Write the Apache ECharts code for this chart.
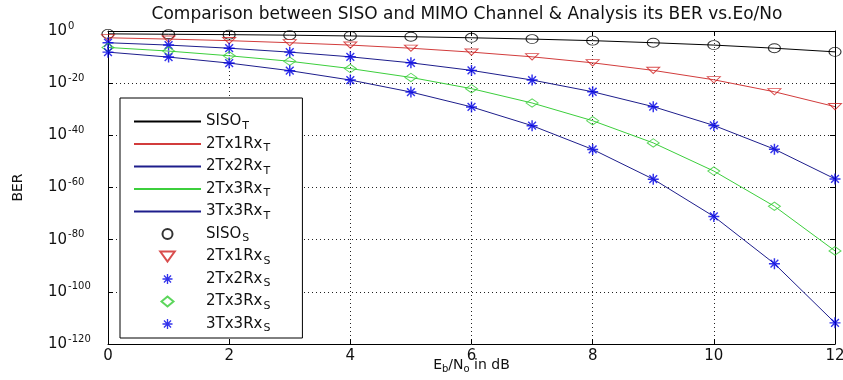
<!DOCTYPE html>
<html>
<head>
<meta charset="utf-8">
<script src="https://cdn.jsdelivr.net/npm/echarts@6.0.0/dist/echarts.min.js"></script>
<style>
  html, body { margin: 0; padding: 0; background: #fff; }
  #main { width: 843px; height: 380px; }
</style>
</head>
<body>
<div id="main"></div>
<script>
// Eb/No in dB
var snrDb = [0, 1, 2, 3, 4, 5, 6, 7, 8, 9, 10, 11, 12];
// BER as log10 values (1e-n -> -n)
var siso   = [-1.1, -1.25, -1.4, -1.6, -1.9, -2.2, -2.6, -3.1, -3.7, -4.5, -5.4, -6.6, -8.0];
var tx2rx1 = [-2.6, -3.1, -3.7, -4.5, -5.4, -6.6, -8.1, -9.9, -12.2, -15.1, -18.7, -23.3, -29.0];
var tx2rx2 = [-4.5, -5.4, -6.6, -8.1, -9.9, -12.2, -15.1, -18.8, -23.3, -29.0, -36.2, -45.3, -56.7];
var tx2rx3 = [-6.3, -7.7, -9.5, -11.6, -14.4, -17.8, -22.1, -27.6, -34.4, -42.9, -53.7, -67.2, -84.3];
var tx3rx3 = [-8.1, -10.0, -12.3, -15.2, -18.8, -23.4, -29.1, -36.3, -45.4, -56.8, -71.1, -89.2, -111.9];
var yTicks = [0, -20, -40, -60, -80, -100, -120];

var FONT = "DejaVu Sans";
// matlab-ish marker shapes
var ASTERISK = "path://M5.2,0L6.8,0L6.8,12L5.2,12Z M0,5.2L12,5.2L12,6.8L0,6.8Z " +
  "M1.2,2.3L2.3,1.2L10.8,9.7L9.7,10.8Z M9.7,1.2L10.8,2.3L2.3,10.8L1.2,9.7Z";
var TRI_DOWN = "path://M0,0L13,0L6.5,9Z";
var DIAMOND = "path://M6,0L12,5L6,10L0,5Z";

function pts(vals) {
  return snrDb.map(function (x, i) { return [x, vals[i]]; });
}

function theory(name, vals, color) {
  return {
    name: name, type: "line", data: pts(vals), symbol: "none",
    lineStyle: { color: color, width: 1 }, itemStyle: { color: color },
    z: 2, silent: true
  };
}

function sim(name, vals, symbol, size, color, filled) {
  return {
    name: name, type: "scatter", data: pts(vals), symbol: symbol,
    symbolSize: size, symbolKeepAspect: true,
    itemStyle: filled
      ? { color: color }
      : { color: "rgba(255,255,255,0)", borderColor: color, borderWidth: 1 },
    z: 3
  };
}

var lineNames = ["SISO_T", "2Tx1Rx_T", "2Tx2Rx_T", "2Tx3Rx_T", "3Tx3Rx_T"];
var simNames = ["SISO_S", "2Tx1Rx_S", "2Tx2Rx_S", "2Tx3Rx_S", "3Tx3Rx_S"];

var myChart = echarts.init(document.getElementById("main"), null, { renderer: "canvas" });

var boxAxis = {
  type: "value", min: 0, max: 12, interval: 2,
  axisLine: { show: true, onZero: false, lineStyle: { color: "#000", width: 1 } },
  axisTick: { show: true, inside: true, length: 5, lineStyle: { color: "#000" } }
};

var option = {
  animation: false,
  backgroundColor: "#fff",
  title: {
    text: "Comparison between SISO and MIMO Channel & Analysis its BER vs.Eo/No",
    left: 467, top: 6, textAlign: "center", padding: 0,
    textStyle: { fontFamily: FONT, fontSize: 17, fontWeight: "normal", color: "#111" }
  },
  grid: { left: 108, right: 8, top: 31, bottom: 36, outerBoundsMode: "none" },
  legend: {
    orient: "vertical", left: 120, top: 98,
    itemWidth: 67, itemHeight: 10, itemGap: 5,
    padding: [16, 32, 4, 13],
    backgroundColor: "#fff", borderColor: "#000", borderWidth: 1, borderRadius: 0,
    data: lineNames.map(function (n) { return { name: n, itemStyle: { opacity: 0 } }; })
      .concat(simNames.map(function (n) { return { name: n }; })),
    formatter: function (name) {
      var p = name.split("_");
      return "{n|" + p[0] + "}{s|" + p[1] + "}";
    },
    textStyle: {
      color: "#111",
      rich: {
        n: { fontFamily: FONT, fontSize: 15, color: "#111" },
        s: { fontFamily: FONT, fontSize: 11, color: "#111", padding: [9, 0, 0, 1] }
      }
    }
  },
  xAxis: [
    Object.assign({}, boxAxis, {
      position: "bottom",
      name: "{n|E}{s|b}{n|/N}{s|o}{n| in dB}",
      nameLocation: "middle", nameGap: 12, nameMoveOverlap: false,
      nameTextStyle: {
        rich: {
          n: { fontFamily: FONT, fontSize: 14, color: "#111" },
          s: { fontFamily: FONT, fontSize: 10, color: "#111", padding: [8, 0, 0, 0] }
        }
      },
      axisLabel: { show: true, margin: 5, fontFamily: FONT, fontSize: 15, color: "#111" },
      splitLine: { show: true, lineStyle: { color: "#222", type: [1, 3], width: 1 } }
    }),
    Object.assign({}, boxAxis, {
      position: "top",
      axisLabel: { show: false },
      splitLine: { show: false }
    })
  ],
  yAxis: [
    {
      type: "value", min: -120, max: 0, interval: 20, position: "left",
      name: "BER", nameLocation: "middle", nameGap: 83, nameRotate: 90, nameMoveOverlap: false,
      nameTextStyle: { fontFamily: FONT, fontSize: 14, color: "#111" },
      axisLine: { show: true, onZero: false, lineStyle: { color: "#000", width: 1 } },
      axisTick: { show: true, inside: true, length: 5, lineStyle: { color: "#000" } },
      axisLabel: {
        show: true, align: "left", margin: 60,
        formatter: function (v) {
          return yTicks.indexOf(v) > -1 ? "{b|10}{e|" + v + "}" : "";
        },
        rich: {
          b: { fontFamily: FONT, fontSize: 15, color: "#111" },
          e: { fontFamily: FONT, fontSize: 10, color: "#111", padding: [0, 0, 10, 1] }
        }
      },
      splitLine: { show: true, lineStyle: { color: "#222", type: [1, 3], width: 1 } }
    },
    {
      type: "value", min: -120, max: 0, interval: 20, position: "right",
      axisLine: { show: true, onZero: false, lineStyle: { color: "#000", width: 1 } },
      axisTick: { show: true, inside: true, length: 5, lineStyle: { color: "#000" } },
      axisLabel: { show: false },
      splitLine: { show: false }
    }
  ],
  series: [
    theory("SISO_T", siso, "#000000"),
    theory("2Tx1Rx_T", tx2rx1, "#d23c3c"),
    theory("2Tx2Rx_T", tx2rx2, "#1e1e8c"),
    theory("2Tx3Rx_T", tx2rx3, "#3ccf3c"),
    theory("3Tx3Rx_T", tx3rx3, "#1e1e8c"),
    sim("SISO_S", siso, "circle", [12, 9], "#000000", false),
    sim("2Tx1Rx_S", tx2rx1, TRI_DOWN, [13, 9], "#d02020", false),
    sim("2Tx2Rx_S", tx2rx2, ASTERISK, 11, "#0000e6", true),
    sim("2Tx3Rx_S", tx2rx3, DIAMOND, [12, 10], "#33cc33", false),
    sim("3Tx3Rx_S", tx3rx3, ASTERISK, 11, "#0000e6", true)
  ]
};

option && myChart.setOption(option);
</script>
</body>
</html>
